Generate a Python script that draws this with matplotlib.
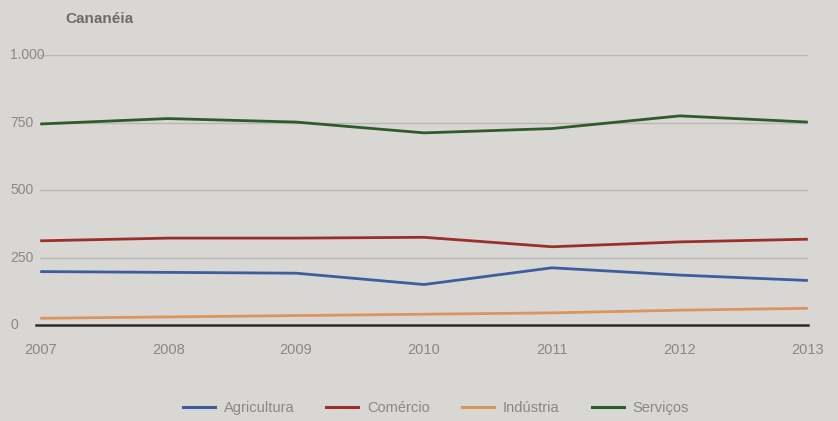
import matplotlib
matplotlib.use("Agg")
import matplotlib.pyplot as plt
import matplotlib.transforms as mtransforms
from matplotlib.lines import Line2D

plt.rcParams['font.family'] = ['Liberation Sans', 'DejaVu Sans']

years = [2007, 2008, 2009, 2010, 2011, 2012, 2013]
agricultura = [198, 195, 192, 150, 212, 185, 165]
comercio = [312, 322, 322, 325, 290, 308, 318]
industria = [25, 30, 35, 40, 45, 55, 62]
servicos = [745, 765, 752, 712, 728, 775, 752]

series_names = ["Agricultura", "Comércio", "Indústria", "Serviços"]
series_values = [agricultura, comercio, industria, servicos]
series_colors = ["#3f5c9e", "#9c2f2c", "#d99560", "#2f5a2c"]

y_ticks = [0, 250, 500, 750, 1000]
y_tick_labels = ["0", "250", "500", "750", "1.000"]

bg = "#d9d7d3"
fig = plt.figure(figsize=(8.38, 4.21), dpi=100, facecolor=bg)
ax = fig.add_axes([0.048, 0.228, 0.916, 0.641], facecolor=bg)

for y in y_ticks[1:]:
    ax.axhline(y, color="#b9b7b3", lw=1.0, zorder=1)

for vals, col in zip(series_values, series_colors):
    ax.plot(years, vals, color=col, lw=2.0, zorder=3, clip_on=False,
            solid_capstyle="butt")

ax.plot([-0.006, 1.0], [0, 0], transform=ax.get_yaxis_transform(),
        color="#2a2a2a", lw=1.8, zorder=4, clip_on=False)

ax.set_xlim(years[0], years[-1])
ax.set_ylim(0, 1000)
for s in ax.spines.values():
    s.set_visible(False)
ax.set_yticks(y_ticks)
ax.set_yticklabels([])
ax.set_xticks(years)
ax.set_xticklabels([str(y) for y in years])
ax.tick_params(axis="both", length=0, colors="#8a8884", labelsize=10.5)
ax.tick_params(axis="x", pad=13)

# y labels, left-aligned near the figure edge
ylab_tr = mtransforms.blended_transform_factory(fig.transFigure, ax.transData)
for v, lab in zip(y_ticks, y_tick_labels):
    ax.text(0.012, v, lab, transform=ylab_tr, ha="left", va="center",
            fontsize=10, color="#8a8884", clip_on=False)

fig.text(0.078, 0.955, "Cananéia", fontsize=11, fontweight="bold",
         color="#6e6c69", ha="left", va="center")

handles = [Line2D([0], [0], color=c, lw=2.2) for c in series_colors]
fig.legend(handles, series_names, loc="center", bbox_to_anchor=(0.52, 0.03),
           ncol=4, frameon=False, fontsize=10.5, labelcolor="#8a8884",
           handlelength=2.2, columnspacing=2.2, handletextpad=0.6)

fig.savefig("out.png", dpi=100, facecolor=bg)
